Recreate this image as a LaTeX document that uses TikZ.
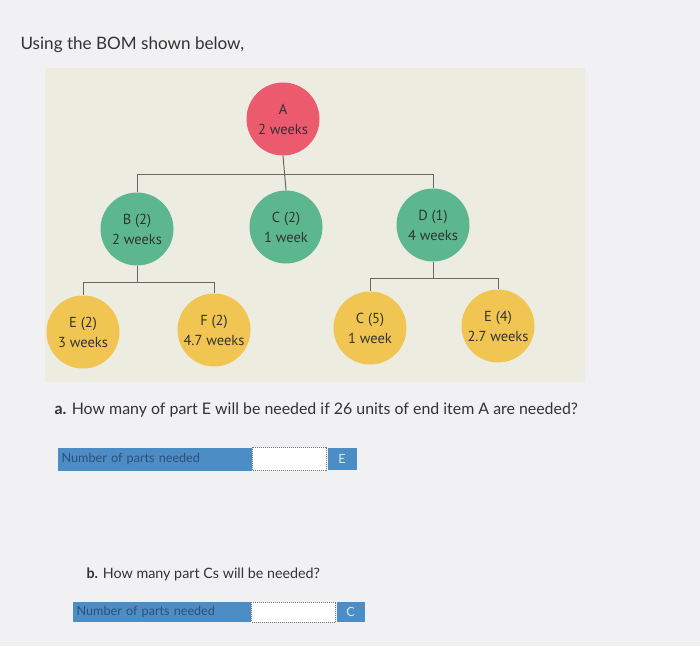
\documentclass[tikz,border=0pt]{standalone}
\usepackage{fontspec}
\setmainfont{Lato}
\newfontfamily\bomfont{PT Sans}
\usetikzlibrary{positioning}

\definecolor{pagebg}{HTML}{F1F0F2}
\definecolor{panelbg}{HTML}{ECECE1}
\definecolor{topred}{HTML}{EC5A6E}
\definecolor{midgreen}{HTML}{5DB78E}
\definecolor{lowyellow}{HTML}{F1C551}
\definecolor{barblue}{HTML}{4D8DC6}
\definecolor{bartext}{HTML}{2D4E78}
\definecolor{inktext}{HTML}{333333}

\tikzset{
    bomnode/.style={circle, minimum size=73pt, inner sep=0pt, align=center,
        text=inktext, font=\bomfont\fontsize{14.5}{20}\selectfont},
    toplevel/.style={bomnode, fill=topred},
    midlevel/.style={bomnode, fill=midgreen},
    lowlevel/.style={bomnode, fill=lowyellow},
    link/.style={draw=black!60, line width=1pt},
    barlabel/.style={fill=barblue, inner sep=0pt, text=bartext, anchor=west,
        font=\fontsize{12.6}{13}\selectfont},
    answerbox/.style={fill=white, draw=black!55, densely dotted, line width=1pt, inner sep=0pt},
    unitbox/.style={fill=barblue, inner sep=0pt, text=white!80!barblue,
        font=\fontsize{12.6}{13}\selectfont}
}

\begin{document}
\begin{tikzpicture}[x=1pt, y=-1pt]

        % page
        \fill[pagebg] (0,0) rectangle (700,646);
        \useasboundingbox (0,0) rectangle (700,646);
        \node[anchor=base west, text=inktext, font=\fontsize{17.1}{19}\selectfont] (title) at (17,49) {Using the BOM shown below,};

        % BOM panel
        \fill[panelbg] (45,68) rectangle (585,382);

        % level 0
        \node[toplevel] (A) at (283,119) {A\\2 weeks};

        % level 1
        \node[midlevel] (B) at (137,229) {B (2)\\2 weeks};
        \node[midlevel] (C2) at (286,227) {C (2)\\1 week};
        \node[midlevel] (D) at (433,225) {D (1)\\4 weeks};

        % level 2
        \node[lowlevel] (E2) at (83,332) {E (2)\\3 weeks};
        \node[lowlevel] (F) at (214,330) {F (2)\\4.7 weeks};
        \node[lowlevel] (C5) at (370,328) {C (5)\\1 week};
        \node[lowlevel] (E4) at (498,326) {E (4)\\2.7 weeks};

        % links
        \coordinate (bar1) at (0,174);
        \coordinate (bar2) at (0,282);
        \coordinate (bar3) at (0,278);
        \draw[link] (A.south) -- (C2.north);
        \draw[link] (B.north) -- (B.north |- bar1) -- (D.north |- bar1) -- (D.north);
        \draw[link] (B.south) -- (B.south |- bar2);
        \draw[link] (E2.north) -- (E2.north |- bar2) -- (F.north |- bar2) -- (F.north);
        \draw[link] (D.south) -- (D.south |- bar3);
        \draw[link] (C5.north) -- (C5.north |- bar3) -- (E4.north |- bar3) -- (E4.north);

        % question a
        \node[anchor=base west, text=inktext, font=\fontsize{15.9}{17}\selectfont] (qa) at (51,414)
            {\textbf{a.} How many of part E will be needed if 26 units of end item A are needed?};
        \node[barlabel, minimum width=194pt, minimum height=23pt, text width=187pt] (laba) at (58,459) {Number of parts needed};
        \node[answerbox, minimum width=74pt, minimum height=23pt, right=0pt of laba] (boxa) {};
        \node[unitbox, minimum width=29pt, minimum height=22pt, right=0pt of boxa] (unita) {E};

        % question b
        \node[anchor=base west, text=inktext, font=\fontsize{14.3}{16}\selectfont] (qb) at (83,578)
            {\textbf{b.} How many part Cs will be needed?};
        \node[barlabel, minimum width=178pt, minimum height=20pt, text width=171pt] (labb) at (73,612) {Number of parts needed};
        \node[answerbox, minimum width=84pt, minimum height=20pt, right=0pt of labb] (boxb) {};
        \node[unitbox, minimum width=28pt, minimum height=20pt, right=0pt of boxb] (unitb) {C};

\end{tikzpicture}
\end{document}
